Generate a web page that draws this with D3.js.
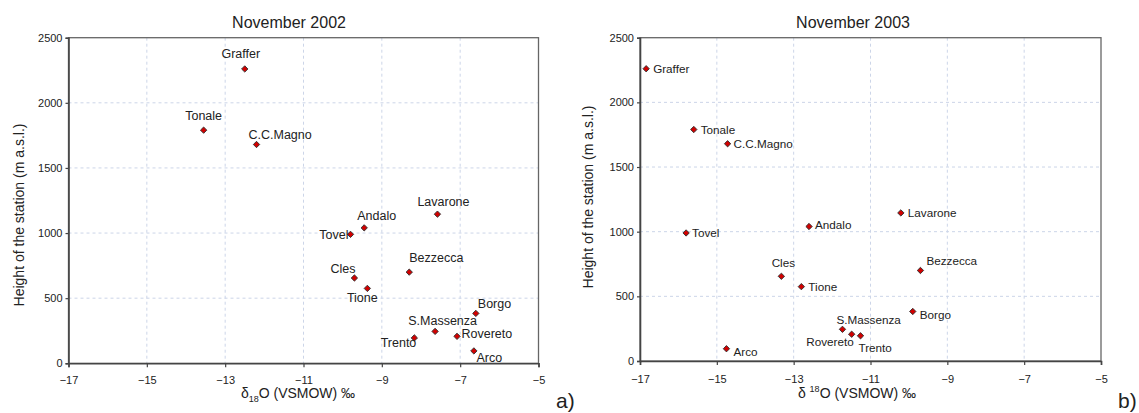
<!doctype html>
<html>
  <head>
    <style>
      body { margin: 0; background: #fff; }
      text { font-family: 'Liberation Sans', Arial, sans-serif; fill: #222; }
    </style>
  </head>
  <body>
    <svg id='chart0'></svg>

    <script src='https://d3js.org/d3.v7.min.js'></script>
    <script>
      // Station names, their heights (m a.s.l.) and the delta 18O values
      // read for each November.
      const stations = ['Graffer', 'Tonale', 'C.C.Magno', 'Tovel', 'Andalo', 'Cles', 'Tione',
                        'Lavarone', 'Bezzecca', 'Borgo', 'S.Massenza', 'Trento', 'Rovereto', 'Arco'];
      const heights = [2260, 1790, 1680, 990, 1040, 655, 575, 1145, 700, 383, 245, 195, 207, 95];
      const d18o_2002 = [-12.5, -13.55, -12.2, -9.8, -9.45, -9.7, -9.37, -7.58, -8.3, -6.6, -7.64, -8.17, -7.08, -6.65];
      const d18o_2003 = [-16.84, -15.6, -14.72, -15.8, -12.6, -13.32, -12.8, -10.21, -9.7, -9.9, -11.73, -11.26, -11.49, -14.75];

      const x_ticks = [-17, -15, -13, -11, -9, -7, -5];
      const y_ticks = [0, 500, 1000, 1500, 2000, 2500];

      // Where each label sits relative to its marker: [dx, dy, anchor].
      const labels_2002 = {
          'Graffer': [-4, -15, 'middle'], 'Tonale': [0, -15, 'middle'], 'C.C.Magno': [-8, -10, 'start'],
          'Tovel': [-2, 0, 'end'], 'Andalo': [-7, -12, 'start'], 'Cles': [1, -9, 'end'],
          'Tione': [-5, 9.5, 'middle'], 'Lavarone': [6, -13, 'middle'], 'Bezzecca': [0, -14.5, 'start'],
          'Borgo': [2, -10, 'start'], 'S.Massenza': [7.5, -11, 'middle'], 'Trento': [2, 5, 'end'],
          'Rovereto': [4.5, -2.5, 'start'], 'Arco': [2.5, 7, 'start'],
      };
      const labels_2003 = {
          'Graffer': [7, 0, 'start'], 'Tonale': [7, 0, 'start'], 'C.C.Magno': [6, 0, 'start'],
          'Tovel': [6, 0, 'start'], 'Andalo': [6, -2, 'start'], 'Cles': [2, -13, 'middle'],
          'Tione': [7, 0, 'start'], 'Lavarone': [7, 0, 'start'], 'Bezzecca': [6, -10, 'start'],
          'Borgo': [7, 3, 'start'], 'S.Massenza': [-6, -9, 'start'], 'Trento': [-2, 12, 'start'],
          'Rovereto': [2, 8, 'end'], 'Arco': [7, 3, 'start'],
      };

      const width = 1139;
      const height = 413;
      const svg = d3.select('svg#chart0')
                    .attr('width', width)
                    .attr('height', height);

      function draw_panel(p) {
          const x = d3.scaleLinear().domain([-17, -5]).range([p.left, p.right]);
          const y = d3.scaleLinear().domain([0, 2500]).range([p.bottom, p.top]);
          const g = svg.append('g');

          // dashed grid
          g.append('g').selectAll('line')
           .data(x_ticks.slice(1, -1))
           .join('line')
           .attr('x1', d => x(d)).attr('x2', d => x(d))
           .attr('y1', p.top).attr('y2', p.bottom)
           .attr('stroke', '#ccd5e8').attr('stroke-dasharray', '3,3');
          g.append('g').selectAll('line')
           .data(y_ticks.slice(1, -1))
           .join('line')
           .attr('y1', d => y(d)).attr('y2', d => y(d))
           .attr('x1', p.left).attr('x2', p.right)
           .attr('stroke', '#ccd5e8').attr('stroke-dasharray', '3,3');

          // frame
          g.append('rect')
           .attr('x', p.left).attr('y', p.top)
           .attr('width', p.right - p.left).attr('height', p.bottom - p.top)
           .attr('fill', 'none').attr('stroke', '#666').attr('stroke-width', 1.3);

          const xa = g.append('g')
                      .attr('transform', `translate(0,${p.bottom})`)
                      .call(d3.axisBottom(x).tickValues(x_ticks).tickSize(4).tickPadding(p.xpad));
          const ya = g.append('g')
                      .attr('transform', `translate(${p.left},0)`)
                      .call(d3.axisLeft(y).tickValues(y_ticks).tickFormat(d3.format('d'))
                              .tickSize(3).tickPadding(3));
          for (const a of [xa, ya]) {
              a.select('.domain').attr('stroke', '#444').attr('stroke-width', 1.6);
              a.selectAll('.tick line').attr('stroke', '#444').attr('stroke-width', 1.2);
              a.selectAll('.tick text')
               .attr('font-size', 11)
               .attr('font-family', "'Liberation Sans', Arial, sans-serif")
               .attr('fill', '#333');
          }

          // title
          g.append('text')
           .attr('x', p.title_x).attr('y', 27.5)
           .attr('text-anchor', 'middle')
           .attr('font-size', 16)
           .text(p.title);

          // x axis title with the 18 as subscript or superscript
          const xt = g.append('text')
                      .attr('x', p.xt_x).attr('y', 398)
                      .attr('text-anchor', 'middle')
                      .attr('font-size', 14);
          xt.append('tspan').text(p.sup ? 'δ ' : 'δ');
          xt.append('tspan').attr('font-size', 9).attr('dy', p.sup ? -6 : 4).text('18');
          xt.append('tspan').attr('dy', p.sup ? 6 : -4).text('O (VSMOW) ‰');

          g.append('text')
           .attr('transform', `translate(${p.yt_x},${p.yt_y}) rotate(-90)`)
           .attr('text-anchor', 'middle')
           .attr('font-size', 14)
           .text('Height of the station (m a.s.l.)');

          const pts = stations.map((s, i) => ({name: s, h: heights[i], v: p.values[i]}));
          const diamond = d3.symbol().type(d3.symbolSquare).size(20);

          g.append('g').selectAll('path')
           .data(pts)
           .join('path')
           .attr('d', diamond)
           .attr('transform', d => `translate(${x(d.v)},${y(d.h)}) rotate(45)`)
           .attr('fill', '#d20000')
           .attr('stroke', '#333')
           .attr('stroke-width', 0.9);

          g.append('g').selectAll('text')
           .data(pts)
           .join('text')
           .attr('x', d => x(d.v) + p.labels[d.name][0])
           .attr('y', d => y(d.h) + p.labels[d.name][1])
           .attr('dy', '0.35em')
           .attr('text-anchor', d => p.labels[d.name][2])
           .attr('font-size', p.label_size)
           .text(d => d.name);

          g.append('text')
           .attr('x', p.tag_x).attr('y', 408)
           .attr('font-family', "'Liberation Serif', 'Times New Roman', serif")
           .attr('font-size', 21)
           .attr('fill', '#000')
           .text(p.tag);
      }

      draw_panel({left: 68.5, right: 538.5, top: 37.7, bottom: 363.3, xpad: 9,
                  title: 'November 2002', title_x: 289, xt_x: 298, yt_x: 24, yt_y: 215,
                  values: d18o_2002, labels: labels_2002, label_size: 12.5, sup: false,
                  tag: 'a)', tag_x: 556});
      draw_panel({left: 640, right: 1101, top: 37.7, bottom: 361, xpad: 10,
                  title: 'November 2003', title_x: 853, xt_x: 857, yt_x: 592.5, yt_y: 197,
                  values: d18o_2003, labels: labels_2003, label_size: 11.7, sup: true,
                  tag: 'b)', tag_x: 1118});
    </script>
  </body>
</html>
